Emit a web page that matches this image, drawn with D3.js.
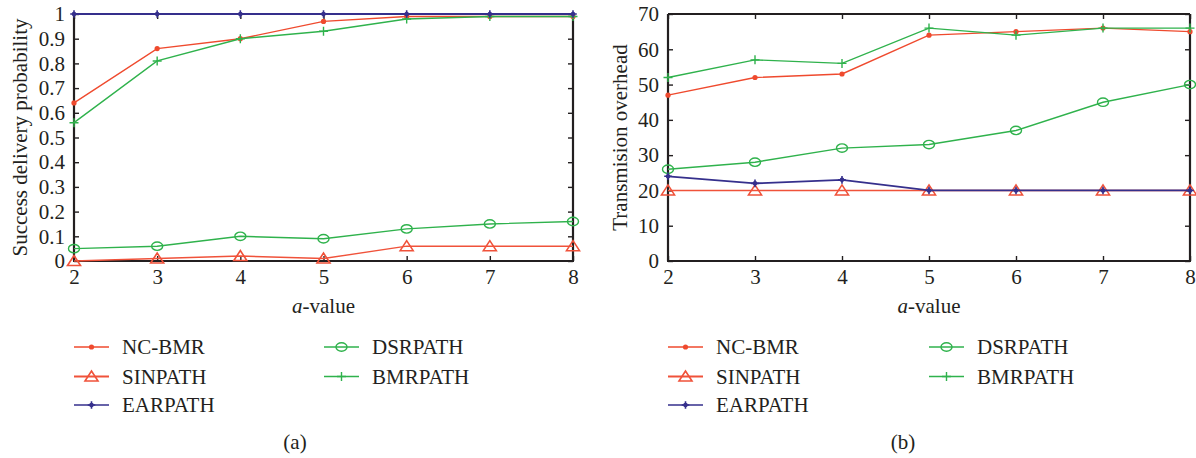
<!DOCTYPE html>
<html>
<head>
<meta charset="utf-8">
<script src="https://cdn.jsdelivr.net/npm/d3@7"></script>
<style>
  html, body { margin: 0; padding: 0; background: #fff; }
  svg text { font-family: "Liberation Serif", "Times New Roman", serif; fill: #231f20; }
</style>
</head>
<body>
<svg id="chart" width="1196" height="458"></svg>
<script>
// data
var aValues = [2, 3, 4, 5, 6, 7, 8];
var seriesNames = ["NC-BMR", "SINPATH", "EARPATH", "DSRPATH", "BMRPATH"];

// (a) success delivery probability
var deliveryNcBmr = [0.64, 0.86, 0.90, 0.97, 0.99, 0.99, 0.99];
var deliverySinpath = [0.0, 0.01, 0.02, 0.01, 0.06, 0.06, 0.06];
var deliveryEarpath = [1, 1, 1, 1, 1, 1, 1];
var deliveryDsrpath = [0.05, 0.06, 0.10, 0.09, 0.13, 0.15, 0.16];
var deliveryBmrpath = [0.56, 0.81, 0.90, 0.93, 0.98, 0.99, 0.99];
var deliveryTicks = [0, 0.1, 0.2, 0.3, 0.4, 0.5, 0.6, 0.7, 0.8, 0.9, 1];

// (b) transmission overhead
var overheadNcBmr = [47, 52, 53, 64, 65, 66, 65];
var overheadSinpath = [20, 20, 20, 20, 20, 20, 20];
var overheadEarpath = [24, 22, 23, 20, 20, 20, 20];
var overheadDsrpath = [26, 28, 32, 33, 37, 45, 50];
var overheadBmrpath = [52, 57, 56, 66, 64, 66, 66];
var overheadTicks = [0, 10, 20, 30, 40, 50, 60, 70];

var styles = {
  "NC-BMR": { color: "#ef4a2e", marker: "dot" },
  "SINPATH": { color: "#f0523a", marker: "triangle" },
  "EARPATH": { color: "#352f8c", marker: "star" },
  "DSRPATH": { color: "#2fb24c", marker: "circle" },
  "BMRPATH": { color: "#2fb24c", marker: "plus" }
};
// drawing order (EARPATH on top)
var drawOrder = ["NC-BMR", "SINPATH", "DSRPATH", "BMRPATH", "EARPATH"];

var svg = d3.select("#chart");
var axisColor = "#231f20";

function drawMarker(g, kind, color, x, y) {
  if (kind === "dot") {
    g.append("circle").attr("cx", x).attr("cy", y).attr("r", 2.6).attr("fill", color);
  } else if (kind === "triangle") {
    g.append("path")
      .attr("d", "M" + (x - 6.5) + "," + (y + 4.5) + "L" + x + "," + (y - 5.5) + "L" + (x + 6.5) + "," + (y + 4.5) + "Z")
      .attr("fill", "none").attr("stroke", color).attr("stroke-width", 1.6);
  } else if (kind === "circle") {
    g.append("ellipse").attr("cx", x).attr("cy", y).attr("rx", 5.5).attr("ry", 4.2)
      .attr("fill", "none").attr("stroke", color).attr("stroke-width", 1.4);
  } else if (kind === "plus") {
    g.append("path")
      .attr("d", "M" + (x - 4.5) + "," + y + "H" + (x + 4.5) + "M" + x + "," + (y - 4.5) + "V" + (y + 4.5))
      .attr("stroke", color).attr("stroke-width", 1.4);
  } else if (kind === "star") {
    g.append("path")
      .attr("d", "M" + (x - 3.8) + "," + y + "H" + (x + 3.8) + "M" + x + "," + (y - 3.8) + "V" + (y + 3.8))
      .attr("stroke", color).attr("stroke-width", 1.6);
    g.append("circle").attr("cx", x).attr("cy", y).attr("r", 2.3).attr("fill", color);
  }
}

function drawPanel(cfg) {
  var g = svg.append("g");
  var x = d3.scaleLinear().domain([2, 8]).range([cfg.left, cfg.right]);
  var y = d3.scaleLinear().domain(cfg.yDomain).range([261, 14]);

  // ticks inside the box on all four sides
  var bottom = g.append("g").attr("transform", "translate(0,261)")
    .call(d3.axisBottom(x).tickValues(aValues).tickSize(-5).tickFormat(d3.format("d")));
  var top = g.append("g").attr("transform", "translate(0,14)")
    .call(d3.axisTop(x).tickValues(aValues).tickSize(-5).tickFormat(""));
  var leftAx = g.append("g").attr("transform", "translate(" + cfg.left + ",0)")
    .call(d3.axisLeft(y).tickValues(cfg.ticks).tickSize(-5).tickPadding(9).tickFormat(cfg.fmt));
  var rightAx = g.append("g").attr("transform", "translate(" + cfg.right + ",0)")
    .call(d3.axisRight(y).tickValues(cfg.ticks).tickSize(-5).tickFormat(""));

  [bottom, top, leftAx, rightAx].forEach(function (a) {
    a.select(".domain").attr("stroke", axisColor).attr("stroke-width", 2.2);
    a.selectAll(".tick line").attr("stroke", axisColor).attr("stroke-width", 1.4);
    a.selectAll(".tick text").attr("font-size", 21).attr("fill", axisColor)
      .style("font-family", "'Liberation Serif', serif");
  });
  top.select(".domain").attr("d", "M" + cfg.left + ",0H" + cfg.right);
  bottom.select(".domain").attr("d", "M" + (cfg.left - 1) + ",0H" + (cfg.right + 1));
  leftAx.select(".domain").attr("d", "M0,261V14");
  rightAx.select(".domain").attr("d", "M0,261V14");
  bottom.selectAll(".tick text").attr("y", 23).attr("dy", 0);

  // axis titles
  var xt = g.append("text").attr("x", (cfg.left + cfg.right) / 2).attr("y", 313)
    .attr("text-anchor", "middle").attr("font-size", 21);
  xt.append("tspan").attr("font-style", "italic").text("a");
  xt.append("tspan").text("-value");

  g.append("text")
    .attr("transform", "translate(" + cfg.yLabelX + "," + 137.5 + ") rotate(-90)")
    .attr("text-anchor", "middle").attr("font-size", 21).text(cfg.yLabel);

  // series
  var line = d3.line().x(function (d, i) { return x(aValues[i]); }).y(function (d) { return y(d); });
  drawOrder.forEach(function (name) {
    var st = styles[name];
    var vals = cfg.data[name];
    var sg = g.append("g");
    sg.append("path").datum(vals).attr("d", line)
      .attr("fill", "none").attr("stroke", st.color)
      .attr("stroke-width", name === "EARPATH" ? 1.8 : 1.4);
    vals.forEach(function (v, i) { drawMarker(sg, st.marker, st.color, x(aValues[i]), y(v)); });
  });

  // legend
  var rows = [347, 376.5, 405];
  var lg = g.append("g");
  seriesNames.forEach(function (name, i) {
    var st = styles[name];
    var col = i < 3 ? 0 : 1;
    var row = i < 3 ? i : i - 3;
    var lx = cfg.legendX[col];
    var ly = rows[row];
    lg.append("line").attr("x1", lx).attr("x2", lx + 35).attr("y1", ly).attr("y2", ly)
      .attr("stroke", st.color).attr("stroke-width", name === "SINPATH" ? 2 : 1.4);
    drawMarker(lg, st.marker, st.color, lx + 17.5, ly);
    lg.append("text").attr("x", lx + 48).attr("y", ly + 7).attr("font-size", 21).text(name);
  });

  g.append("text").attr("x", cfg.captionX).attr("y", 449)
    .attr("text-anchor", "middle").attr("font-size", 21).text(cfg.caption);
}

drawPanel({
  left: 74, right: 573,
  yDomain: [0, 1], ticks: deliveryTicks,
  fmt: function (d) { return d3.format("~g")(d); },
  yLabel: "Success delivery probability", yLabelX: 27,
  data: {
    "NC-BMR": deliveryNcBmr, "SINPATH": deliverySinpath, "EARPATH": deliveryEarpath,
    "DSRPATH": deliveryDsrpath, "BMRPATH": deliveryBmrpath
  },
  legendX: [74, 324], captionX: 295, caption: "(a)"
});

drawPanel({
  left: 668, right: 1190,
  yDomain: [0, 70], ticks: overheadTicks,
  fmt: d3.format("d"),
  yLabel: "Transmision overhead", yLabelX: 627,
  data: {
    "NC-BMR": overheadNcBmr, "SINPATH": overheadSinpath, "EARPATH": overheadEarpath,
    "DSRPATH": overheadDsrpath, "BMRPATH": overheadBmrpath
  },
  legendX: [668, 929], captionX: 903, caption: "(b)"
});
</script>
</body>
</html>
